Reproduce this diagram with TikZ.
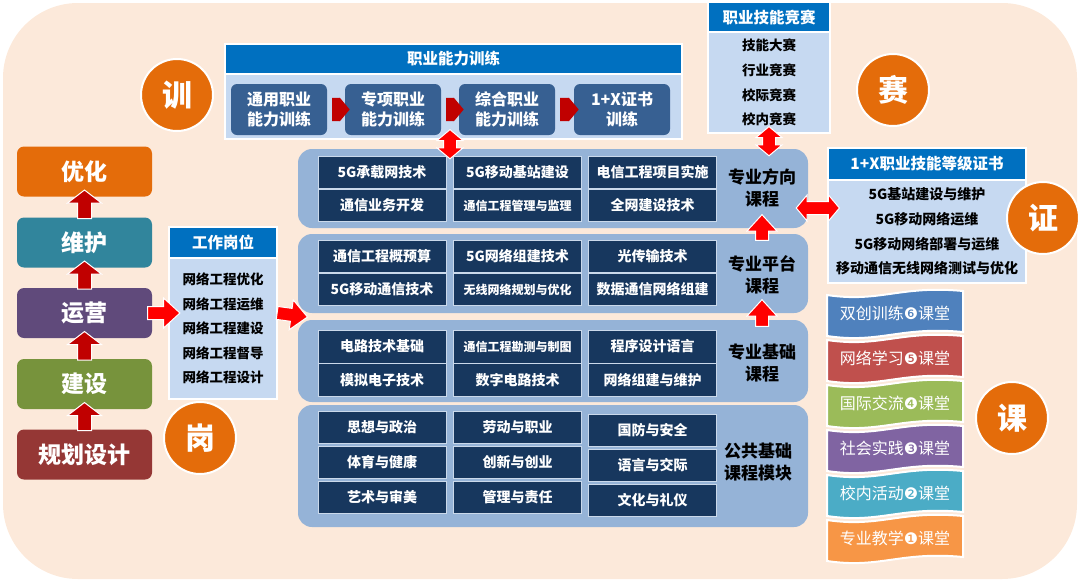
\documentclass[tikz,border=0pt]{standalone}
\usepackage{fontspec}
\usetikzlibrary{shapes.arrows,calc}
\newfontfamily\cjk{Noto Sans CJK SC}
\newfontfamily\digitfont{DejaVu Sans}
\definecolor{peach}{HTML}{FCE9DA}
\definecolor{cyouhua}{HTML}{E46C0A}
\definecolor{cweihu}{HTML}{31859C}
\definecolor{cyunying}{HTML}{604A7B}
\definecolor{cjianshe}{HTML}{77933C}
\definecolor{cguihua}{HTML}{953735}
\definecolor{darkred}{HTML}{C00000}
\definecolor{hdrblue}{HTML}{0070C0}
\definecolor{bodyblue}{HTML}{C6D9F1}
\definecolor{slate}{HTML}{376092}
\definecolor{steel}{HTML}{95B3D7}
\definecolor{navy}{HTML}{17375E}
\definecolor{corange}{HTML}{E46C0A}
\definecolor{rblue}{HTML}{4F81BD}
\definecolor{rred}{HTML}{C0504D}
\definecolor{rgreen}{HTML}{9BBB59}
\definecolor{rpurple}{HTML}{8064A2}
\definecolor{rcyan}{HTML}{4BACC6}
\definecolor{rorange}{HTML}{F79646}
\tikzset{
	arrow gap/.store in=\arrowgap, arrow gap=4pt,
	stage/.style={rounded corners=7, minimum width=135, minimum height=50, inner sep=0, text=white, font=\cjk\bfseries\fontsize{23}{23}\selectfont},
	hdr/.style={fill=hdrblue, draw=white, line width=1.2, inner sep=0, text=white, font=\cjk\bfseries\fontsize{15.5}{15.5}\selectfont},
	listbody/.style={fill=bodyblue, draw=white, line width=1.2, inner sep=0, align=center, font=\cjk\bfseries\fontsize{13.5}{24.6}\selectfont},
	trainbox/.style={fill=slate, rounded corners=6, minimum width=96, minimum height=51, inner sep=0, align=center, text=white, font=\cjk\bfseries\fontsize{16}{20}\selectfont},
	block/.style={fill=steel, rounded corners=14, inner sep=0},
	course/.style={fill=navy, draw=steel!50!white, line width=0.6, minimum width=128, minimum height=32, inner sep=0, text=white, font=\cjk\bfseries\fontsize{14}{14}\selectfont},
	coursesm/.style={course, font=\cjk\bfseries\fontsize{12}{12}\selectfont},
	blklabel/.style={align=center, inner sep=0, font=\cjk\bfseries\fontsize{17}{22}\selectfont},
	badge/.style={circle, fill=corange, draw=white, line width=2, minimum size=72, inner sep=0, text=white, font=\cjk\bfseries\fontsize{30}{30}\selectfont},
	stagearrow/.style={single arrow, fill=darkred, draw=white, line width=1, inner xsep=0, inner ysep=6.5, single arrow head extend=10, single arrow tip angle=105, arrow gap=4pt},
	redarrow/.style={single arrow, fill=red, draw=white, line width=1, inner xsep=0, inner ysep=6, single arrow head extend=8.5, single arrow tip angle=85, arrow gap=8pt},
	redup/.style={redarrow, arrow gap=10pt},
	redboth/.style={double arrow, fill=red, draw=white, line width=1, inner xsep=0, inner ysep=6, double arrow head extend=6.5, double arrow tip angle=100, arrow gap=7pt},
	chevron/.style={single arrow, fill=darkred, inner xsep=0, inner ysep=11.5, single arrow head extend=0.1, single arrow tip angle=100, arrow gap=0pt},
	ribbontext/.style={text=white, inner sep=0, font=\cjk\fontsize{16}{16}\selectfont}
}
\newcommand{\blockarrow}[3][]{%
	\path[#1] let \p1=(#2), \p2=(#3), \n1={veclen(\x2-\x1,\y2-\y1)}, \n2={atan2(\y2-\y1,\x2-\x1)} in
		node[#1, minimum height=\n1+2*\arrowgap, rotate=\n2] at ($(\p1)!0.5!(\p2)$) {};}
\begin{document}
\begin{tikzpicture}[x=1pt,y=-1pt]
	\useasboundingbox (0,0) rectangle (1080,582);
	\fill[peach, rounded corners=75] (3,3) rectangle (1077,579);

	\node[stage, fill=cyouhua] (youhua) at (84.5,171.5) {优化};
	\node[stage, fill=cweihu] (weihu) at (84.5,242.5) {维护};
	\node[stage, fill=cyunying] (yunying) at (84.5,313) {运营};
	\node[stage, fill=cjianshe] (jianshe) at (84.5,384) {建设};
	\node[stage, fill=cguihua] (guihua) at (84.5,454.5) {规划设计};
	\blockarrow[stagearrow]{guihua.north}{jianshe.south}
	\blockarrow[stagearrow]{jianshe.north}{yunying.south}
	\blockarrow[stagearrow]{yunying.north}{weihu.south}
	\blockarrow[stagearrow]{weihu.north}{youhua.south}

	\node[hdr, minimum width=108, minimum height=31] (gwhead) at (223,242.5) {工作岗位};
	\node[listbody, minimum width=108, minimum height=141] (gwlist) at (223,328.5) {网络工程优化\\网络工程运维\\网络工程建设\\网络工程督导\\网络工程设计};

	\node[hdr, minimum width=457, minimum height=30] (pxhead) at (453.5,59) {职业能力训练};
	\node[listbody, minimum width=457, minimum height=65] (pxbody) at (453.5,106.5) {};
	\node[trainbox] (px1) at (279,109.5) {通用职业\\能力训练};
	\node[trainbox] (px2) at (393,109.5) {专项职业\\能力训练};
	\node[trainbox] (px3) at (507,109.5) {综合职业\\能力训练};
	\node[trainbox] (px4) at (622,109.5) {1+X证书\\训练};
	\blockarrow[chevron]{px1.east}{px2.west}
	\blockarrow[chevron]{px2.east}{px3.west}
	\blockarrow[chevron]{px3.east}{px4.west}

	\node[hdr, minimum width=122, minimum height=30] (jshead) at (769,17) {职业技能竞赛};
	\node[listbody, minimum width=122, minimum height=101, font=\cjk\bfseries\fontsize{13.5}{24.7}\selectfont] (jsbody) at (769,82.5) {技能大赛\\行业竞赛\\校际竞赛\\校内竞赛};

	\node[hdr, minimum width=198, minimum height=32] (xhead) at (927,164) {1+X职业技能等级证书};
	\node[listbody, minimum width=198, minimum height=103, font=\cjk\bfseries\fontsize{14}{24.7}\selectfont] (xbody) at (927,231.5) {5G基站建设与维护\\5G移动网络运维\\5G移动网络部署与运维\\移动通信无线网络测试与优化};

	\node[block, minimum width=510, minimum height=79] (blk1) at (553,188.5) {};
	\node[block, minimum width=510, minimum height=79] (blk2) at (553,273.5) {};
	\node[block, minimum width=510, minimum height=82] (blk3) at (553,361) {};
	\node[block, minimum width=510, minimum height=122] (blk4) at (553,466) {};

	\node[course] (c11) at (382,172.5) {5G承载网技术};
	\node[course] (c12) at (517.5,172.5) {5G移动基站建设};
	\node[course] (c13) at (652.5,172.5) {电信工程项目实施};
	\node[course] (c21) at (382,205.5) {通信业务开发};
	\node[coursesm] (c22) at (517.5,205.5) {通信工程管理与监理};
	\node[course] (c23) at (652.5,205.5) {全网建设技术};
	\node[blklabel] (lbl1) at (762,188) {专业方向\\课程};

	\node[course] (d11) at (382,256.5) {通信工程概预算};
	\node[course] (d12) at (517.5,256.5) {5G网络组建技术};
	\node[course] (d13) at (652.5,256.5) {光传输技术};
	\node[course] (d21) at (382,289.5) {5G移动通信技术};
	\node[coursesm] (d22) at (517.5,289.5) {无线网络规划与优化};
	\node[course] (d23) at (652.5,289.5) {数据通信网络组建};
	\node[blklabel] (lbl2) at (762,275) {专业平台\\课程};

	\node[course, minimum height=33] (e11) at (382,346.5) {电路技术基础};
	\node[coursesm, minimum height=33] (e12) at (517.5,346.5) {通信工程勘测与制图};
	\node[course, minimum height=33] (e13) at (652.5,346.5) {程序设计语言};
	\node[course, minimum height=33] (e21) at (382,380) {模拟电子技术};
	\node[course, minimum height=33] (e22) at (517.5,380) {数字电路技术};
	\node[course, minimum height=33] (e23) at (652.5,380) {网络组建与维护};
	\node[blklabel] (lbl3) at (762,363) {专业基础\\课程};

	\node[course] (f11) at (382,427.5) {思想与政治};
	\node[course] (f12) at (517.5,427.5) {劳动与职业};
	\node[course] (f13) at (652.5,430) {国防与安全};
	\node[course] (f21) at (382,462.5) {体育与健康};
	\node[course] (f22) at (517.5,462.5) {创新与创业};
	\node[course] (f23) at (652.5,465) {语言与交际};
	\node[course] (f31) at (382,497) {艺术与审美};
	\node[course] (f32) at (517.5,497) {管理与责任};
	\node[course] (f33) at (652.5,500) {文化与礼仪};
	\node[blklabel] (lbl4) at (758,462) {公共基础\\课程模块};

	\coordinate (core) at (300,316);
	\coordinate (pxmid) at ($(px2.east)!0.5!(px3.west)$);
	\coordinate (xlink) at (0,208);
	\blockarrow[redarrow]{yunying.east}{gwlist.west |- yunying.east}
	\blockarrow[redarrow, arrow gap=4pt]{gwlist.east |- yunying.east}{core}
	\blockarrow[redup]{lbl2 |- blk2.north}{lbl1 |- blk1.south}
	\blockarrow[redup]{lbl3 |- blk3.north}{lbl2 |- blk2.south}
	\blockarrow[redboth, arrow gap=10pt]{pxmid |- pxbody.south}{pxmid |- blk1.north}
	\blockarrow[redboth]{jsbody.south}{jsbody.south |- blk1.north}
	\blockarrow[redboth, arrow gap=12pt]{blk1.east |- xlink}{xbody.west |- xlink}

	\foreach \i/\col/\txt in {5/rorange/{专业教学{\digitfont ❶}课堂}, 4/rcyan/{校内活动{\digitfont ❷}课堂}, 3/rpurple/{社会实践{\digitfont ❸}课堂}, 2/rgreen/{国际交流{\digitfont ❹}课堂}, 1/rred/{网络学习{\digitfont ❺}课堂}, 0/rblue/{双创训练{\digitfont ❻}课堂}} {
		\pgfmathsetmacro\ry{291+45*\i}
		\filldraw[fill=\col, draw=white, line width=2] (827,\ry+4) .. controls (880,\ry+12) and (900,\ry-6) .. (963,\ry) -- (963,\ry+41) .. controls (900,\ry+35) and (880,\ry+53) .. (827,\ry+45) -- cycle;
		\node[ribbontext] (r\i) at (895,\ry+22) {\txt};
	}

	\node[badge] (xun) at (177,95) {训};
	\node[badge] (gang) at (200,438) {岗};
	\node[badge] (sai) at (893,90) {赛};
	\node[badge] (zheng) at (1043,218) {证};
	\node[badge] (ke) at (1012,418) {课};
\end{tikzpicture}
\end{document}
